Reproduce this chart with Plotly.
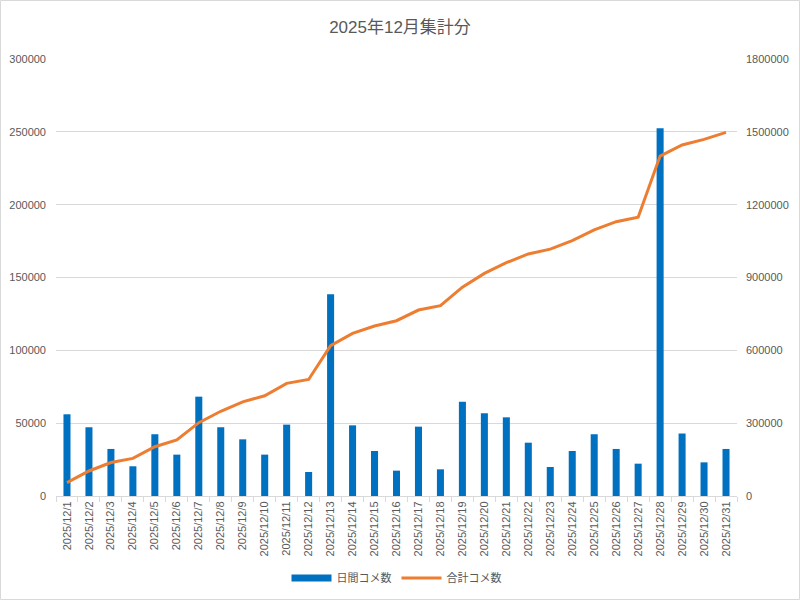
import plotly.graph_objects as go

dates = [f"2025/12/{d}" for d in range(1, 32)]
daily = [56100, 47200, 32300, 20400, 42400, 28400, 68200, 47200, 38900, 28400,
         49000, 16500, 138500, 48500, 30900, 17400, 47600, 18300, 64700, 56800,
         54000, 36600, 19900, 30900, 42400, 32300, 22200, 252400, 42900, 23100, 32300]
total = [55000, 103000, 138000, 155000, 203000, 231000, 302000, 349000, 388000, 413000,
         464000, 480000, 619000, 670000, 700000, 722000, 766000, 784000, 860000, 917000,
         961000, 997000, 1017000, 1052000, 1096000, 1130000, 1148000, 1400000, 1446000, 1469000, 1498000]
title_text = "2025年12月集計分"
daily_name = "日間コメ数"
total_name = "合計コメ数"

gray = "#595959"
grid = "#d9d9d9"
blue = "#0070C0"
orange = "#ED7D31"
jp = "Liberation Sans, Noto Sans CJK JP, sans-serif"
latin = "Liberation Sans, Arial, sans-serif"

fig = go.Figure()
fig.add_trace(go.Bar(x=dates, y=daily, name=daily_name, marker_color=blue,
                     marker_line_width=0, yaxis="y", showlegend=False, legendgroup="d"))
# legend entry for bars drawn as a wide flat rectangle (like the reference)
fig.add_trace(go.Scatter(x=[dates[0]], y=[None], name=daily_name, mode="lines",
                         line=dict(color=blue, width=7), yaxis="y", legendgroup="d"))
fig.add_trace(go.Scatter(x=dates, y=total, name=total_name, mode="lines",
                         line=dict(color=orange, width=3), yaxis="y2"))

W, H = 800, 600
l, r, t, b = 56, 63, 59, 104
pw, ph = W - l - r, H - t - b

fig.update_layout(
    width=W, height=H,
    margin=dict(l=l, r=r, t=t, b=b, autoexpand=False),
    paper_bgcolor="white", plot_bgcolor="white",
    title=dict(text=title_text, x=0.5, xanchor="center", y=1 - 27 / H, yanchor="middle",
               font=dict(family=jp, size=17, color=gray)),
    bargap=0.68,
    showlegend=True,
    legend=dict(orientation="h", x=0.5, xanchor="center", y=-(578 - 496) / ph, yanchor="middle",
                font=dict(family=jp, size=11, color=gray), itemwidth=40, tracegroupgap=0),
    xaxis=dict(type="category", tickangle=-90, tickfont=dict(family=latin, size=11, color=gray),
               showgrid=False, showline=True, linecolor=grid, linewidth=1,
               ticks="outside", tickson="boundaries", ticklen=5, tickcolor=grid),
    yaxis=dict(range=[0, 300000], dtick=50000, tickformat="d", showgrid=True, gridcolor=grid,
               gridwidth=1, zeroline=False, tickfont=dict(family=latin, size=11, color=gray),
               ticklabelstandoff=9),
    yaxis2=dict(range=[0, 1800000], dtick=300000, tickformat="d", overlaying="y", side="right",
                showgrid=False, zeroline=False, tickfont=dict(family=latin, size=11, color=gray),
                ticklabelstandoff=8),
    shapes=[dict(type="rect", xref="paper", yref="paper",
                 x0=-(l - 0.5) / pw, x1=1 + (r - 0.5) / pw,
                 y0=-(b - 0.5) / ph, y1=1 + (t - 0.5) / ph,
                 line=dict(color=grid, width=1), fillcolor="rgba(0,0,0,0)", layer="below")],
)

fig.write_html("out.html")
